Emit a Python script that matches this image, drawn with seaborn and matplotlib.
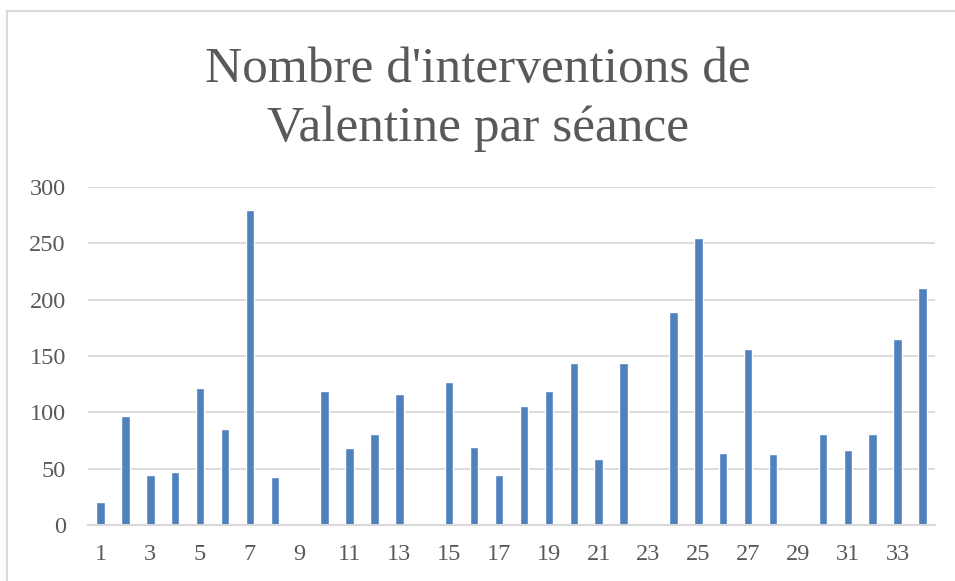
import matplotlib
matplotlib.use("Agg")
import matplotlib.pyplot as plt
from matplotlib.patches import Rectangle
import seaborn as sns
import pandas as pd

# Interventions per session
seances = [str(i) for i in range(1, 35)]
interventions = [20, 97, 44, 47, 122, 85, 280, 43, 0, 119,
                 68, 81, 116, 0, 127, 69, 44, 106, 119, 144,
                 59, 144, 0, 189, 255, 64, 156, 63, 0, 81,
                 67, 81, 165, 210]
y_ticks = [0, 50, 100, 150, 200, 250, 300]
title = "Nombre d'interventions de\nValentine par séance"

sns.set_theme(style="white")
plt.rcParams["font.family"] = ["Liberation Serif", "DejaVu Serif"]

text_color = "#595959"
grid_color = "#D9D9D9"
bar_color = "#4F81BD"

df = pd.DataFrame({"seance": seances, "interventions": interventions})

fig = plt.figure(figsize=(9.55, 5.81), dpi=100)
ax = fig.add_axes([88 / 955, 56 / 581, 847 / 955, 338 / 581])

sns.barplot(data=df, x="seance", y="interventions", order=seances,
            color=bar_color, saturation=1, width=0.34, ax=ax)

ax.set_xlim(-0.5, len(seances) - 0.5)
ax.set_ylim(0, 300)
ax.set_yticks(y_ticks)
ax.set_yticklabels([str(v) for v in y_ticks])
ax.set_xticks(range(0, len(seances), 2))
ax.set_xticklabels(seances[::2])
ax.yaxis.grid(True, color=grid_color, linewidth=1.3)
ax.set_axisbelow(True)
ax.set_xlabel("")
ax.set_ylabel("")
for side in ["top", "right", "left"]:
    ax.spines[side].set_visible(False)
ax.spines["bottom"].set_color(grid_color)
ax.spines["bottom"].set_linewidth(1.5)
ax.tick_params(axis="both", length=0, labelsize=17.5, colors=text_color)
ax.tick_params(axis="y", pad=16)
ax.tick_params(axis="x", pad=14)

fig.text(0.5, 1 - 99 / 581, title, ha="center", va="center",
         fontsize=37, color=text_color, linespacing=1.36)

# chart area frame
fig.patches.append(Rectangle((7 / 955, -0.2), 1.2, 1.2 - 11 / 581,
                             transform=fig.transFigure, fill=False,
                             edgecolor=grid_color, linewidth=1.5))

fig.savefig("out.png", dpi=100)
